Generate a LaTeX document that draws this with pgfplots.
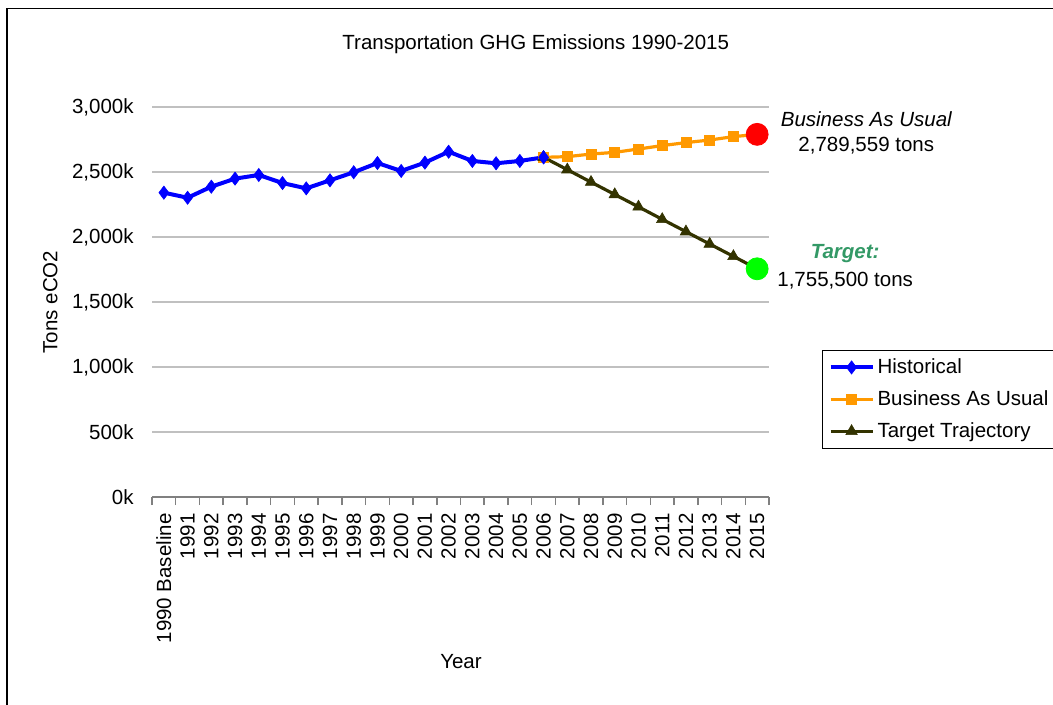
\documentclass[border=0pt]{standalone}
\usepackage{pgfplots}
\pgfplotsset{compat=1.18}
\usepackage{fontspec}
\setmainfont{Liberation Sans}
\definecolor{histblue}{RGB}{0,0,255}
\definecolor{bauorange}{RGB}{255,153,0}
\definecolor{tgtolive}{RGB}{51,51,0}
\definecolor{tgttext}{RGB}{51,153,102}
\definecolor{gridgray}{RGB}{192,192,192}
\definecolor{axgray}{RGB}{128,128,128}
\definecolor{brightgreen}{RGB}{0,255,0}
\begin{document}
\fontsize{10.25}{12.3}\selectfont
\begin{tikzpicture}
\path[use as bounding box] (0,0) rectangle (526.5pt,-352.5pt);
\draw[line width=0.75pt] (3.5pt,-360pt) -- (3.5pt,-4.25pt) -- (540pt,-4.25pt);
\begin{axis}[
  at={(76pt,-248.5pt)}, anchor=south west,
  width=308.5pt, height=195pt, scale only axis,
  xmin=-0.5, xmax=25.5, ymin=0, ymax=3000,
  clip=false,
  axis lines*=left,
  x axis line style={draw=axgray, line width=0.75pt},
  y axis line style={draw=none},
  xtick={-0.5,0.5,...,25.5},
  x tick label as interval,
  xticklabels={1990 Baseline,1991,1992,1993,1994,1995,1996,1997,1998,1999,2000,2001,2002,2003,2004,2005,2006,2007,2008,2009,2010,2011,2012,2013,2014,2015},
  xticklabel style={rotate=90, anchor=east, inner xsep=4pt, inner ysep=0pt},
  xtick style={draw=axgray, line width=0.75pt},
  tick align=outside, major tick length=4pt,
  ytick={0,500,...,3000},
  yticklabels={0k,500k,{1,000k},{1,500k},{2,000k},{2,500k},{3,000k}},
  yticklabel style={anchor=east, inner xsep=5pt},
  ytick style={draw=none},
  ymajorgrids, grid style={draw=gridgray, line width=0.75pt},
  title={Transportation GHG Emissions 1990-2015},
  title style={at={(axis description cs:0.622,1.131)}, anchor=center},
  xlabel={Year},
  xlabel style={at={(axis description cs:0.5008,-0.423)}, anchor=center},
  ylabel={Tons eCO2},
  ylabel style={at={(axis description cs:-0.165,0.5)}, anchor=center, rotate=0},
  legend style={at={(axis description cs:1.086,0.377)}, anchor=north west, draw=black, line width=0.5pt, row sep=4pt, inner xsep=3pt, inner ysep=2.5pt, nodes={inner sep=1.5pt}},
  legend cell align=left,
  legend image code/.code={\draw[mark repeat=2,mark phase=2] plot coordinates {(0pt,0pt) (10.5pt,0pt) (21pt,0pt)};},
]
\addplot[histblue, line width=2pt, mark=diamond*, mark size=3.3pt, mark options={line width=0.3pt}] coordinates {
(0,2341) (1,2302) (2,2387) (3,2449) (4,2477) (5,2415) (6,2374) (7,2436) (8,2498) (9,2569) (10,2508) (11,2572) (12,2656) (13,2585) (14,2567) (15,2585) (16,2613)};
\addplot[bauorange, line width=1.6pt, mark=square*, mark size=2.5pt, mark options={line width=0.3pt}] coordinates {
(16,2613) (17,2618) (18,2638) (19,2651) (20,2677) (21,2703) (22,2726) (23,2746) (24,2772) (25,2789.559)};
\addplot[tgtolive, line width=1.6pt, mark=triangle*, mark size=3.3pt, mark options={line width=0.3pt}] coordinates {
(16,2613) (17,2518) (18,2422) (19,2327) (20,2232) (21,2136) (22,2041) (23,1946) (24,1851) (25,1755.5)};
\legend{Historical,Business As Usual,Target Trajectory}
\addplot[forget plot, only marks, histblue, mark=diamond*, mark size=3.3pt, mark options={line width=0.3pt}] coordinates {(16,2613)};
\addplot[forget plot, only marks, mark=*, mark size=5.5pt, red] coordinates {(25,2789.559)};
\addplot[forget plot, only marks, mark=*, mark size=5.5pt, brightgreen] coordinates {(25,1755.5)};
\node[font=\itshape] at (axis cs:29.6,2908) {Business As Usual};
\node at (axis cs:29.6,2700) {2,789,559 tons};
\node[font=\bfseries\itshape, text=tgttext] at (axis cs:28.71,1869) {Target:};
\node at (axis cs:28.71,1662) {1,755,500 tons};
\end{axis}
\end{tikzpicture}
\end{document}
